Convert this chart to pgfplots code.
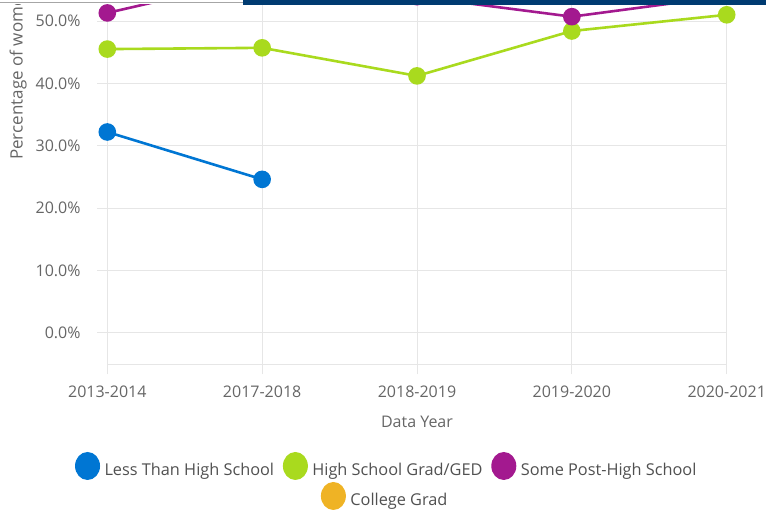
\documentclass[border=0pt]{standalone}
\usepackage{fontspec}
\setmainfont{Open Sans}
\usepackage{pgfplots}
\pgfplotsset{compat=1.18}
\definecolor{lessHS}{HTML}{0076D3}
\definecolor{hsgrad}{HTML}{A9DA1E}
\definecolor{somepost}{HTML}{A3198F}
\definecolor{colgrad}{HTML}{EFB325}
\definecolor{gridgray}{HTML}{E6E6E6}
\definecolor{labelgray}{HTML}{666666}
\definecolor{legtext}{HTML}{505050}
\definecolor{navybar}{HTML}{003B71}

\pgfplotsset{
  dotlegend/.style={legend image code/.code={
    \path[draw=none, fill=none] (0pt,-10pt) rectangle (25pt,18pt);
    \fill[#1, draw=none] (12.5pt,4pt) ellipse [x radius=12.5pt, y radius=14pt];}},
  dotlegendshift/.style={legend image code/.code={
    \path[draw=none, fill=none] (0pt,-10pt) rectangle (25pt,18pt);
    \fill[#1, draw=none, overlay] (50.5pt,4pt) ellipse [x radius=12.5pt, y radius=14pt];}},
}

\begin{document}
\begin{tikzpicture}
\begin{scope}
\clip (0pt,0pt) rectangle (766pt,509.5pt);
\begin{axis}[
  at={(107.3pt,149.7pt)}, anchor=south west,
  scale only axis, width=619.4pt, height=405.6pt,
  xmin=0, xmax=4, ymin=-5.07, ymax=60,
  xtick={0,1,2,3,4},
  xticklabels={2013-2014,2017-2018,2018-2019,2019-2020,2020-2021},
  ytick={0,10,20,30,40,50},
  yticklabel={\pgfmathprintnumber[fixed,fixed zerofill,precision=1]{\tick}\%},
  /pgf/number format/assume math mode=true,
  axis x line*=bottom, axis y line*=left,
  axis line style={gridgray, line width=1pt, -},
  xmajorgrids, ymajorgrids,
  grid style={gridgray, line width=1pt},
  tick style={gridgray, line width=1pt},
  tick align=outside, major tick length=10pt,
  ticklabel style={font=\fontsize{16}{19}\selectfont, text=labelgray, inner sep=0pt},
  yticklabel style={xshift=-16.6pt},
  xticklabel style={yshift=-11.2pt},
  xlabel={Data Year},
  xlabel style={at={(axis description cs:0.5,0)}, anchor=north, yshift=-51.5pt,
    inner sep=0pt, font=\fontsize{16}{19}\selectfont, text=labelgray},
  legend columns=3,
  legend cell align=left,
  legend style={at={(axis description cs:-0.0521,-0.2162)}, anchor=north west,
    draw=none, fill=none, inner sep=0pt, outer sep=0pt,
    row sep=2pt,
    nodes={font=\fontsize{16.3}{19}\selectfont, text=legtext, inner xsep=4.5pt, inner ysep=0pt},
    /tikz/every even column/.append style={column sep=4.3pt}},
]
\addplot[lessHS, line width=2.6pt, mark=*, mark size=7.5pt, dotlegend=lessHS]
  coordinates {(0,32.2) (1,24.6)};
\addlegendentry{Less Than High School}
\addplot[hsgrad, line width=2.6pt, mark=*, mark size=7.5pt, dotlegend=hsgrad]
  coordinates {(0,45.5) (1,45.7) (2,41.2) (3,48.4) (4,51.0)};
\addlegendentry{High School Grad/GED}
\addplot[somepost, line width=2.6pt, mark=*, mark size=7.5pt, dotlegend=somepost]
  coordinates {(0,51.3) (1,57.0) (2,53.9) (3,50.7) (4,54.0)};
\addlegendentry{Some Post-High School}
\addlegendimage{empty legend}
\addlegendentry{}
\addlegendimage{dotlegendshift=colgrad}
\addlegendentry{\hspace*{38pt}College Grad}
\end{axis}
\end{scope}
\node[rotate=90, anchor=base west, inner sep=0pt, font=\fontsize{17}{20}\selectfont, text=labelgray]
  at (22.5pt,354pt) {Percentage of women};
\fill[white] (0pt,509.5pt) rectangle (766pt,514pt);
\draw[gray!70, line width=1.2pt] (0pt,511.5pt) -- (243pt,511.5pt);
\fill[navybar] (243pt,509.3pt) rectangle (766pt,514pt);
\pgfresetboundingbox
\path[use as bounding box] (0pt,0pt) rectangle (766pt,514pt);
\end{tikzpicture}
\end{document}
